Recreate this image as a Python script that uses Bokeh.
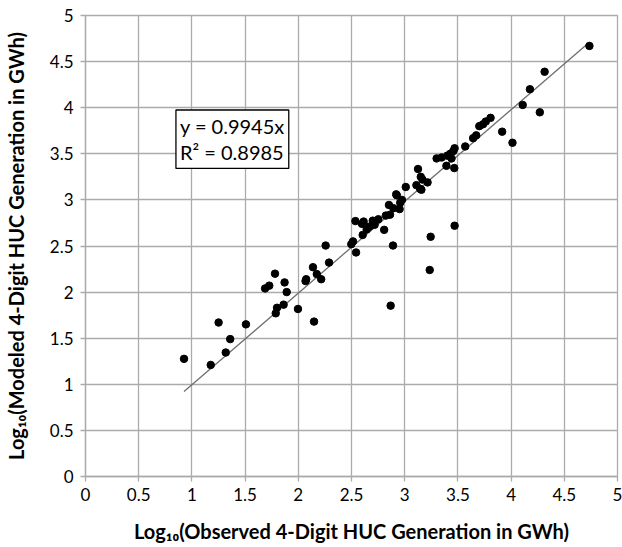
from bokeh.plotting import figure
from bokeh.models import Range1d, FixedTicker, Label, ColumnDataSource
from bokeh.embed import file_html
from bokeh.resources import INLINE

# Observed (x) and modeled (y) log10 generation
obs_x = [4.736, 4.315, 4.177, 4.109, 4.27, 4.013, 3.916, 3.807, 3.762, 3.736,
         3.701, 3.672, 3.643, 3.569, 3.469, 3.457, 3.428, 3.40, 3.44, 3.347,
         3.30, 3.392, 3.466, 3.125, 3.151, 3.167, 3.215, 3.11, 3.145, 3.157,
         3.01, 2.92, 2.926, 2.974, 2.958, 2.952, 2.852, 2.894, 2.862, 2.823,
         2.807, 2.89, 2.752, 2.70, 2.717, 2.669, 2.643, 2.614, 2.598, 2.605,
         2.537, 2.514, 2.498, 2.543, 2.257, 2.289, 2.138, 2.174, 2.215, 2.068,
         2.074, 2.148, 1.997, 1.781, 1.727, 1.688, 1.871, 1.891, 1.862, 1.80,
         1.788, 1.508, 1.251, 1.36, 1.318, 1.177, 0.926, 3.244, 3.235, 3.469,
         2.868]
model_y = [4.67, 4.39, 4.20, 4.03, 3.95, 3.62, 3.74, 3.89, 3.85, 3.82,
           3.80, 3.70, 3.67, 3.58, 3.56, 3.53, 3.50, 3.48, 3.45, 3.46,
           3.45, 3.37, 3.345, 3.335, 3.25, 3.22, 3.19, 3.16, 3.12, 3.11,
           3.14, 3.06, 3.05, 3.00, 2.97, 2.90, 2.945, 2.91, 2.84, 2.83,
           2.675, 2.505, 2.79, 2.775, 2.73, 2.71, 2.68, 2.765, 2.74, 2.62,
           2.77, 2.55, 2.52, 2.43, 2.505, 2.32, 2.27, 2.195, 2.14, 2.12,
           2.14, 1.68, 1.817, 2.20, 2.07, 2.04, 2.105, 2.00, 1.864, 1.83,
           1.77, 1.65, 1.67, 1.49, 1.345, 1.21, 1.276, 2.60, 2.24, 2.72,
           1.853]

slope = 0.9945
r_squared = 0.8985

tick_values = [0, 0.5, 1, 1.5, 2, 2.5, 3, 3.5, 4, 4.5, 5]
tick_labels = ["0", "0.5", "1", "1.5", "2", "2.5", "3", "3.5", "4", "4.5", "5"]

x_title = "Log\u2081\u2080(Observed 4-Digit HUC Generation in GWh)"
y_title = "Log\u2081\u2080(Modeled 4-Digit HUC Generation in GWh)"

FONT = "Lato"
GRID = "#ababab"

p = figure(width=622, height=545, output_backend="svg", toolbar_location=None,
           x_range=Range1d(0, 5), y_range=Range1d(0, 5),
           min_border_left=83, min_border_right=5, min_border_top=15,
           min_border_bottom=67)
p.background_fill_color = "white"
p.border_fill_color = "white"
p.outline_line_color = GRID
p.outline_line_width = 1.3

for ax in (p.xaxis[0], p.yaxis[0]):
    ax.ticker = FixedTicker(ticks=tick_values)
    ax.major_label_overrides = {v: s for v, s in zip(tick_values, tick_labels)}
    ax.axis_line_color = GRID
    ax.axis_line_width = 1.3
    ax.major_tick_line_color = GRID
    ax.major_tick_line_width = 1.3
    ax.major_tick_in = 0
    ax.major_tick_out = 5
    ax.minor_tick_line_color = None
    ax.major_label_text_font = FONT
    ax.major_label_text_font_size = "17px"
    ax.major_label_text_color = "black"
    ax.axis_label_text_font = FONT
    ax.axis_label_text_font_style = "bold"
    ax.axis_label_text_font_size = "20px"
    ax.axis_label_text_color = "black"

p.xaxis[0].axis_label = x_title
p.yaxis[0].axis_label = y_title
p.xaxis[0].major_label_standoff = 6
p.yaxis[0].major_label_standoff = 7
p.xaxis[0].axis_label_standoff = 15
p.yaxis[0].axis_label_standoff = 19

p.grid.grid_line_color = GRID
p.grid.grid_line_width = 1.3

# trend line through origin, spanning the observed range
x0, x1 = min(obs_x), max(obs_x)
p.line([x0, x1], [slope * x0, slope * x1], line_color="#6e6e6e", line_width=1.3)

src = ColumnDataSource(dict(x=obs_x, y=model_y))
p.scatter("x", "y", source=src, size=7.5, fill_color="black", line_color="black")

eq = Label(x=0.85, y=3.975, anchor="top_left",
           text=f"y = {slope}x\nR\u00b2 = {r_squared}",
           text_font=FONT, text_font_size="20px", text_color="black",
           text_line_height=1.1, padding=4,
           border_line_color="black", border_line_width=1.3,
           background_fill_color="white")
p.add_layout(eq)

open("out.html", "w").write(file_html(p, INLINE))
